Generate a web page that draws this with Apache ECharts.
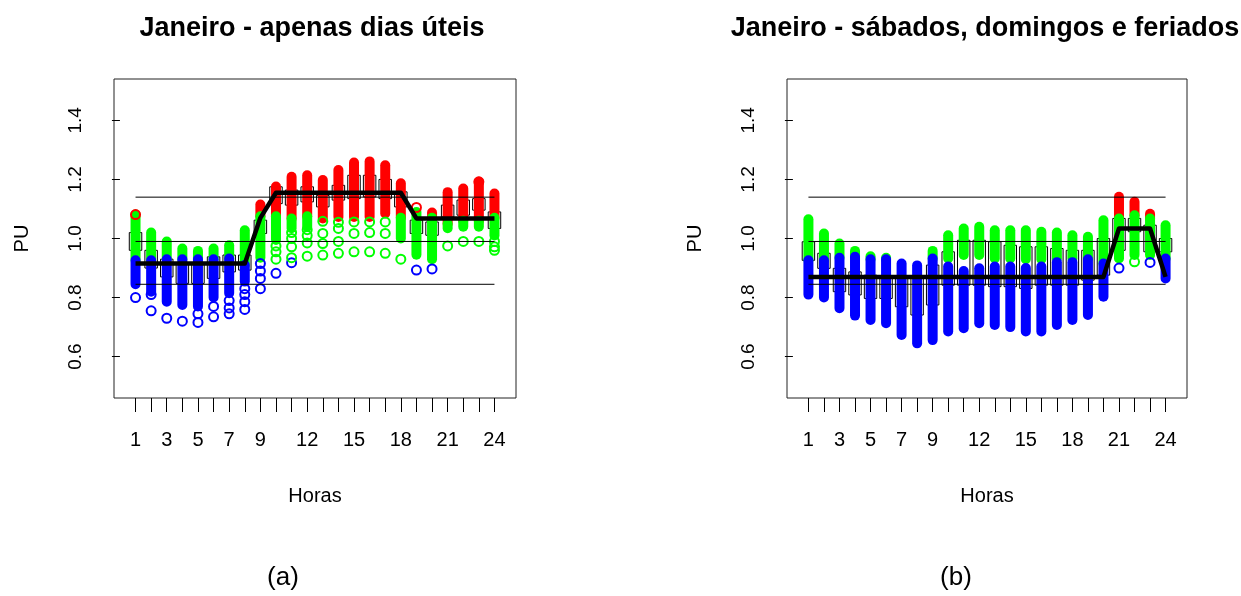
<!DOCTYPE html>
<html>
<head>
<meta charset="utf-8">
<script src="https://cdn.jsdelivr.net/npm/echarts@6/dist/echarts.min.js"></script>
<style>
  html, body { margin: 0; padding: 0; background: #fff; }
  #chart { width: 1241px; height: 596px; }
</style>
</head>
<body>
<div id="chart"></div>
<script>
// horas e rotulos
const horas = [1, 2, 3, 4, 5, 6, 7, 8, 9, 10, 11, 12, 13, 14, 15, 16, 17, 18, 19, 20, 21, 22, 23, 24];
const rotulosHoras = [1, 3, 5, 7, 9, 12, 15, 18, 21, 24];
const rotulosPU = [0.6, 0.8, 1.0, 1.2, 1.4];
const limites = [1.14, 0.99, 0.845];

// (a) dias uteis: faixas [min, max] por hora e cor
const uteisVermelho = [null, null, null, null, null, null, null, null,
  [1.075, 1.115], [1.075, 1.176], [1.068, 1.209], [1.075, 1.214], [1.068, 1.198], [1.073, 1.232],
  [1.073, 1.257], [1.073, 1.261], [1.085, 1.248], [1.07, 1.187],
  null, [1.07, 1.088], [1.05, 1.157], [1.06, 1.169], [1.06, 1.192], [1.07, 1.152]];
const uteisVerde = [[0.926, 1.081], [0.926, 1.02], [0.93, 0.99], [0.93, 0.966], [0.93, 0.958], [0.93, 0.966],
  [0.932, 0.977], [0.91, 1.028], [0.935, 1.075], [0.995, 1.075], [1.035, 1.068], [1.04, 1.075],
  null, null, null, null, null, [1.0, 1.07],
  [0.945, 1.09], [0.93, 1.07], [1.035, 1.05], [1.04, 1.06], [1.04, 1.06], [1.01, 1.07]];
const uteisAzul = [[0.845, 0.926], [0.82, 0.926], [0.786, 0.93], [0.775, 0.93], [0.77, 0.93], [0.80, 0.93],
  [0.815, 0.932], [0.854, 0.91], null, null, null, null, null, null, null, null,
  null, null, null, null, null, null, null, null];
const uteisSoltosAzul = [[1, 0.80], [2, 0.81], [2, 0.755], [3, 0.73], [4, 0.72], [5, 0.745], [5, 0.716],
  [6, 0.77], [6, 0.735], [7, 0.79], [7, 0.765], [7, 0.745], [8, 0.83], [8, 0.81], [8, 0.786], [8, 0.76],
  [9, 0.915], [9, 0.89], [9, 0.865], [9, 0.83], [10, 0.882], [11, 0.918], [19, 0.893], [20, 0.897]];
const uteisSoltosVerde = [[10, 0.975], [10, 0.955], [10, 0.93], [11, 1.02], [11, 1.0], [11, 0.972], [11, 0.935],
  [12, 1.03], [12, 1.01], [12, 0.985], [12, 0.94], [13, 1.058], [13, 1.017], [13, 0.983], [13, 0.944],
  [14, 1.055], [14, 1.034], [14, 0.99], [14, 0.95], [15, 1.056], [15, 1.017], [15, 0.955],
  [16, 1.056], [16, 1.02], [16, 0.955], [17, 1.056], [17, 1.017], [17, 0.95], [18, 0.93],
  [21, 0.975], [22, 0.99], [23, 0.99], [24, 0.99], [24, 0.972], [24, 0.96]];
const uteisSoltosVermelho = [[1, 1.081], [19, 1.105], [23, 1.192]];
const uteisPerfil = [0.915, 0.915, 0.915, 0.915, 0.915, 0.915, 0.915, 0.915, 1.07,
  1.155, 1.155, 1.155, 1.155, 1.155, 1.155, 1.155, 1.155, 1.155,
  1.068, 1.068, 1.068, 1.068, 1.068, 1.068];
const uteisCaixas = [[0.96, 1.02], [0.90, 0.96], [0.87, 0.93], [0.848, 0.915], [0.848, 0.915], [0.865, 0.938],
  [0.887, 0.944], [0.893, 0.944], [1.017, 1.062], [1.118, 1.175], [1.113, 1.164], [1.124, 1.175],
  [1.107, 1.146], [1.13, 1.18], [1.135, 1.214], [1.141, 1.214], [1.135, 1.2], [1.107, 1.158],
  [1.017, 1.062], [1.011, 1.056], [1.073, 1.113], [1.079, 1.13], [1.096, 1.135], [1.034, 1.09]];

// (b) sabados, domingos e feriados
const fdsVermelho = [null, null, null, null, null, null, null, null, null, null, null, null,
  null, null, null, null, null, null, null, null,
  [1.068, 1.141], [1.079, 1.124], [1.068, 1.084], null];
const fdsVerde = [[0.926, 1.065], [0.926, 1.017], [0.935, 0.983], [0.938, 0.958], [0.93, 0.94], [0.93, 0.935],
  null, null, [0.932, 0.958], [0.932, 1.011], [0.944, 1.034], [0.944, 1.04],
  [0.932, 1.028], [0.932, 1.028], [0.93, 1.028], [0.93, 1.023], [0.932, 1.02], [0.932, 1.011],
  [0.932, 1.006], [0.915, 1.062], [0.932, 1.068], [0.944, 1.079], [0.944, 1.068], [0.932, 1.045]];
const fdsAzul = [[0.81, 0.926], [0.80, 0.926], [0.764, 0.935], [0.739, 0.938], [0.724, 0.93], [0.713, 0.93],
  [0.673, 0.915], [0.645, 0.909], [0.656, 0.932], [0.685, 0.905], [0.696, 0.89], [0.713, 0.899],
  [0.707, 0.905], [0.70, 0.905], [0.685, 0.90], [0.685, 0.905], [0.707, 0.92], [0.724, 0.92],
  [0.741, 0.93], [0.803, 0.915], null, null, null, [0.865, 0.932]];
const fdsSoltosAzul = [[21, 0.90], [23, 0.919]];
const fdsSoltosVerde = [[22, 0.921]];
const fdsSoltosVermelho = [];
const fdsPerfil = [0.87, 0.87, 0.87, 0.87, 0.87, 0.87, 0.87, 0.87, 0.87, 0.87,
  0.87, 0.87, 0.87, 0.87, 0.87, 0.87, 0.87, 0.87, 0.87, 0.87,
  1.034, 1.034, 1.034, 0.87];
const fdsCaixas = [[0.926, 0.989], [0.899, 0.95], [0.82, 0.899], [0.809, 0.887], [0.797, 0.876], [0.797, 0.865],
  [0.769, 0.865], [0.741, 0.865], [0.775, 0.91], [0.842, 0.955], [0.842, 0.994], [0.842, 0.994],
  [0.837, 0.989], [0.837, 0.977], [0.831, 0.972], [0.842, 0.972], [0.842, 0.966], [0.842, 0.96],
  [0.859, 0.96], [0.876, 1.0], [0.96, 1.068], [1.023, 1.068], [0.955, 1.045], [0.955, 1.0]];

const VERMELHO = '#ff0000', VERDE = '#00ff00', AZUL = '#0000ff';
const FONTE = '"Liberation Sans", Arial, sans-serif';

const chart = echarts.init(document.getElementById('chart'), null, { renderer: 'canvas' });

function faixas(lista, cor, idx) {
  const dados = [];
  lista.forEach((f, i) => { if (f) dados.push([horas[i], f[0], f[1]]); });
  return {
    type: 'custom', xAxisIndex: idx, yAxisIndex: idx, z: 3, silent: true,
    data: dados,
    encode: { x: 0, y: [1, 2] },
    renderItem: function (params, api) {
      const topo = api.coord([api.value(0), api.value(2)]);
      const base = api.coord([api.value(0), api.value(1)]);
      const w = 10;
      return {
        type: 'rect',
        shape: { x: topo[0] - w / 2, y: topo[1] - w / 2, width: w, height: base[1] - topo[1] + w, r: w / 2 },
        style: { fill: cor }
      };
    }
  };
}

function caixas(lista, idx) {
  return {
    type: 'custom', xAxisIndex: idx, yAxisIndex: idx, z: 2, silent: true,
    data: lista.map((c, i) => [horas[i], c[0], c[1]]),
    encode: { x: 0, y: [1, 2] },
    renderItem: function (params, api) {
      const topo = api.coord([api.value(0), api.value(2)]);
      const base = api.coord([api.value(0), api.value(1)]);
      const w = api.size([0.8, 0])[0];
      return {
        type: 'rect',
        shape: { x: topo[0] - w / 2, y: topo[1], width: w, height: base[1] - topo[1] },
        style: { fill: null, stroke: '#000', lineWidth: 1 }
      };
    }
  };
}

function soltos(lista, cor, idx) {
  return {
    type: 'scatter', xAxisIndex: idx, yAxisIndex: idx, z: 4, silent: true,
    symbol: 'circle', symbolSize: 9,
    itemStyle: { color: 'rgba(0,0,0,0)', borderColor: cor, borderWidth: 2, opacity: 1 },
    data: lista
  };
}

function painel(idx, verm, verde, azul, sAzul, sVerde, sVerm, perfil, cx) {
  const s = [
    caixas(cx, idx),
    faixas(verm, VERMELHO, idx),
    faixas(verde, VERDE, idx),
    faixas(azul, AZUL, idx),
    soltos(sAzul, AZUL, idx),
    soltos(sVerde, VERDE, idx),
    soltos(sVerm, VERMELHO, idx)
  ];
  limites.forEach(v => {
    s.push({
      type: 'line', xAxisIndex: idx, yAxisIndex: idx, z: 5, silent: true, symbol: 'none',
      lineStyle: { color: '#000', width: 1 },
      data: [[horas[0], v], [horas[23], v]]
    });
  });
  s.push({
    type: 'line', xAxisIndex: idx, yAxisIndex: idx, z: 6, silent: true, symbol: 'none',
    lineStyle: { color: '#000', width: 4.5, join: 'round' },
    data: horas.map((h, i) => [h, perfil[i]])
  });
  return s;
}

function eixoX(idx) {
  return {
    type: 'value', gridIndex: idx, min: -0.38, max: 25.38,
    name: 'Horas', nameLocation: 'middle', nameGap: 88,
    nameTextStyle: { fontFamily: FONTE, fontSize: 20, color: '#000' },
    axisLine: { show: false },
    splitLine: { show: false },
    axisTick: { show: true, inside: false, length: 14, customValues: horas, lineStyle: { color: '#000', width: 1 } },
    axisLabel: { show: true, customValues: rotulosHoras, margin: 32, fontFamily: FONTE, fontSize: 20, color: '#000' }
  };
}

function eixoY(idx) {
  return {
    type: 'value', gridIndex: idx, min: 0.46, max: 1.54,
    name: 'PU', nameLocation: 'middle', nameGap: 82,
    nameTextStyle: { fontFamily: FONTE, fontSize: 20, color: '#000' },
    axisLine: { show: false },
    splitLine: { show: false },
    axisTick: { show: true, inside: false, length: 8, customValues: rotulosPU, lineStyle: { color: '#000', width: 1 } },
    axisLabel: {
      show: true, customValues: rotulosPU, rotate: 90, margin: 29,
      fontFamily: FONTE, fontSize: 19, color: '#000',
      formatter: v => v.toFixed(1)
    }
  };
}

const option = {
  backgroundColor: '#ffffff',
  animation: false,
  grid: [
    { left: 114, top: 79, width: 402, height: 319, show: true, borderColor: '#222', borderWidth: 1, backgroundColor: 'transparent' },
    { left: 787, top: 79, width: 400, height: 319, show: true, borderColor: '#222', borderWidth: 1, backgroundColor: 'transparent' }
  ],
  xAxis: [eixoX(0), eixoX(1)],
  yAxis: [eixoY(0), eixoY(1)],
  graphic: [
    { type: 'text', x: 312, y: 29, style: { text: 'Janeiro - apenas dias úteis', fontFamily: FONTE, fontSize: 27, fontWeight: 'bold', fill: '#000', align: 'center', verticalAlign: 'middle' } },
    { type: 'text', x: 985, y: 29, style: { text: 'Janeiro - sábados, domingos e feriados', fontFamily: FONTE, fontSize: 27, fontWeight: 'bold', fill: '#000', align: 'center', verticalAlign: 'middle' } },
    { type: 'text', x: 283, y: 578, style: { text: '(a)', fontFamily: FONTE, fontSize: 26, fill: '#000', align: 'center', verticalAlign: 'middle' } },
    { type: 'text', x: 956, y: 578, style: { text: '(b)', fontFamily: FONTE, fontSize: 26, fill: '#000', align: 'center', verticalAlign: 'middle' } }
  ],
  series: [].concat(
    painel(0, uteisVermelho, uteisVerde, uteisAzul, uteisSoltosAzul, uteisSoltosVerde, uteisSoltosVermelho, uteisPerfil, uteisCaixas),
    painel(1, fdsVermelho, fdsVerde, fdsAzul, fdsSoltosAzul, fdsSoltosVerde, fdsSoltosVermelho, fdsPerfil, fdsCaixas)
  )
};

chart.setOption(option);
</script>
</body>
</html>
